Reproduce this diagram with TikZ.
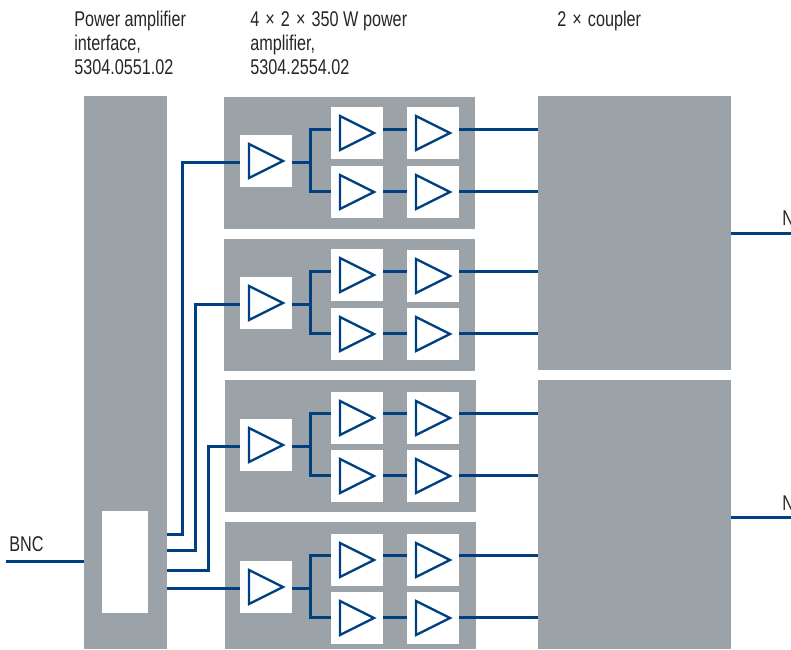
\documentclass[tikz,border=0pt]{standalone}
\usepackage{fontspec}
\setmainfont[FakeStretch=0.76]{Liberation Sans}
\definecolor{wireblue}{HTML}{004080}
\definecolor{blockgrey}{HTML}{9BA2A8}
\tikzset{
  block/.style={fill=blockgrey,inner sep=0pt},
  wire/.style={draw=wireblue,line width=2.1pt},
  ampbox/.style={fill=white,inner sep=0pt,minimum size=39pt,path picture={
    \draw [wireblue,line width=1.7pt] (path picture bounding box.center) ++(-12.75pt,-12.75pt) -- ++(25.5pt,12.75pt) -- ++(-25.5pt,12.75pt) -- cycle;}},
  lbl/.style={anchor=base west,inner sep=0pt,align=left,text=black!85,font=\fontsize{16}{18}\selectfont}
}
\newcommand{\bytimes}{\kern1.2pt×\kern1.2pt}
\begin{document}
\begin{tikzpicture}[x=0.75pt,y=-0.75pt]
\useasboundingbox (0,0) rectangle (791,649);
\node [lbl] (lpa) at (74,74.5) {Power amplifier\\interface,\\5304.0551.02};
\node [lbl] (lamp) at (250,74.5) {4 \bytimes{} 2 \bytimes{} 350 W power\\amplifier,\\5304.2554.02};
\node [lbl] (lco) at (557,26.5) {2 \bytimes{} coupler};
\node [lbl] (lbnc) at (9,551) {BNC};
\node [lbl] (lna) at (782,225) {N};
\node [lbl] (lnb) at (782,510) {N};
\node [block,minimum width=62.25pt,minimum height=414.75pt] (pa) at (125.5,372.5) {};
\node [fill=white,inner sep=0pt,minimum width=34.5pt,minimum height=76.5pt] (inner) at (125,562) {};
\node [block,minimum width=188.25pt,minimum height=99pt] (r1) at (349.5,163) {};
\node [block,minimum width=188.25pt,minimum height=99pt] (r2) at (349.5,305) {};
\node [block,minimum width=188.25pt,minimum height=99pt] (r3) at (350.5,446) {};
\node [block,minimum width=188.25pt,minimum height=95.25pt] (r4) at (350.5,585.5) {};
\node [block,minimum width=144.75pt,minimum height=205.5pt] (ca) at (634.5,233) {};
\node [block,minimum width=144.75pt,minimum height=201.75pt] (cb) at (634.5,514.5) {};
\node [ampbox] (a1) at (266,161) {};
\node [ampbox] (b1) at (357,133) {};
\node [ampbox] (c1) at (357,192) {};
\node [ampbox] (d1) at (433,133) {};
\node [ampbox] (e1) at (433,192) {};
\node [ampbox] (a2) at (266,303) {};
\node [ampbox] (b2) at (357,275) {};
\node [ampbox] (c2) at (357,334) {};
\node [ampbox] (d2) at (433,276) {};
\node [ampbox] (e2) at (433,334) {};
\node [ampbox] (a3) at (266,445) {};
\node [ampbox] (b3) at (357,418) {};
\node [ampbox] (c3) at (357,476) {};
\node [ampbox] (d3) at (433,418) {};
\node [ampbox] (e3) at (433,476) {};
\node [ampbox] (a4) at (266,587) {};
\node [ampbox] (b4) at (357,560) {};
\node [ampbox] (c4) at (357,618) {};
\node [ampbox] (d4) at (433,560) {};
\node [ampbox] (e4) at (433,618) {};
\coordinate (t1) at (310.5,129.5);
\coordinate (m1) at (310.5,162.5);
\coordinate (u1) at (310.5,191.5);
\coordinate (t2) at (310.5,271.5);
\coordinate (m2) at (310.5,304.5);
\coordinate (u2) at (310.5,333.5);
\coordinate (t3) at (310.5,413.5);
\coordinate (m3) at (310.5,446.5);
\coordinate (u3) at (310.5,475.5);
\coordinate (t4) at (310.5,555.5);
\coordinate (m4) at (310.5,588.5);
\coordinate (u4) at (310.5,617.5);
\coordinate (s1) at (167,534.5);
\coordinate (s2) at (167,550.5);
\coordinate (s3) at (167,570.5);
\coordinate (v1) at (182.5,162.5);
\coordinate (v2) at (195.5,304.5);
\coordinate (v3) at (208.5,446.5);
\coordinate (bnc) at (6,561.5);
\coordinate (outa) at (791,233.5);
\coordinate (outb) at (791,517.5);
\draw [wire] (bnc) -- (pa.west |- bnc);
\draw [wire] (ca.east |- outa) -- (outa);
\draw [wire] (cb.east |- outb) -- (outb);
\draw [wire] (s1) -| (v1) -- (a1.west |- m1);
\draw [wire] (s2) -| (v2) -- (a2.west |- m2);
\draw [wire] (s3) -| (v3) -- (a3.west |- m3);
\draw [wire] (pa.east |- m4) -- (a4.west |- m4);
\draw [wire] (a1.east |- m1) -- (m1);
\draw [wire] (b1.west |- t1) -| (u1) -- (c1.west |- u1);
\draw [wire] (b1.east |- t1) -- (d1.west |- t1);
\draw [wire] (c1.east |- u1) -- (e1.west |- u1);
\draw [wire] (d1.east |- t1) -- (ca.west |- t1);
\draw [wire] (e1.east |- u1) -- (ca.west |- u1);
\draw [wire] (a2.east |- m2) -- (m2);
\draw [wire] (b2.west |- t2) -| (u2) -- (c2.west |- u2);
\draw [wire] (b2.east |- t2) -- (d2.west |- t2);
\draw [wire] (c2.east |- u2) -- (e2.west |- u2);
\draw [wire] (d2.east |- t2) -- (ca.west |- t2);
\draw [wire] (e2.east |- u2) -- (ca.west |- u2);
\draw [wire] (a3.east |- m3) -- (m3);
\draw [wire] (b3.west |- t3) -| (u3) -- (c3.west |- u3);
\draw [wire] (b3.east |- t3) -- (d3.west |- t3);
\draw [wire] (c3.east |- u3) -- (e3.west |- u3);
\draw [wire] (d3.east |- t3) -- (cb.west |- t3);
\draw [wire] (e3.east |- u3) -- (cb.west |- u3);
\draw [wire] (a4.east |- m4) -- (m4);
\draw [wire] (b4.west |- t4) -| (u4) -- (c4.west |- u4);
\draw [wire] (b4.east |- t4) -- (d4.west |- t4);
\draw [wire] (c4.east |- u4) -- (e4.west |- u4);
\draw [wire] (d4.east |- t4) -- (cb.west |- t4);
\draw [wire] (e4.east |- u4) -- (cb.west |- u4);
\end{tikzpicture}
\end{document}
